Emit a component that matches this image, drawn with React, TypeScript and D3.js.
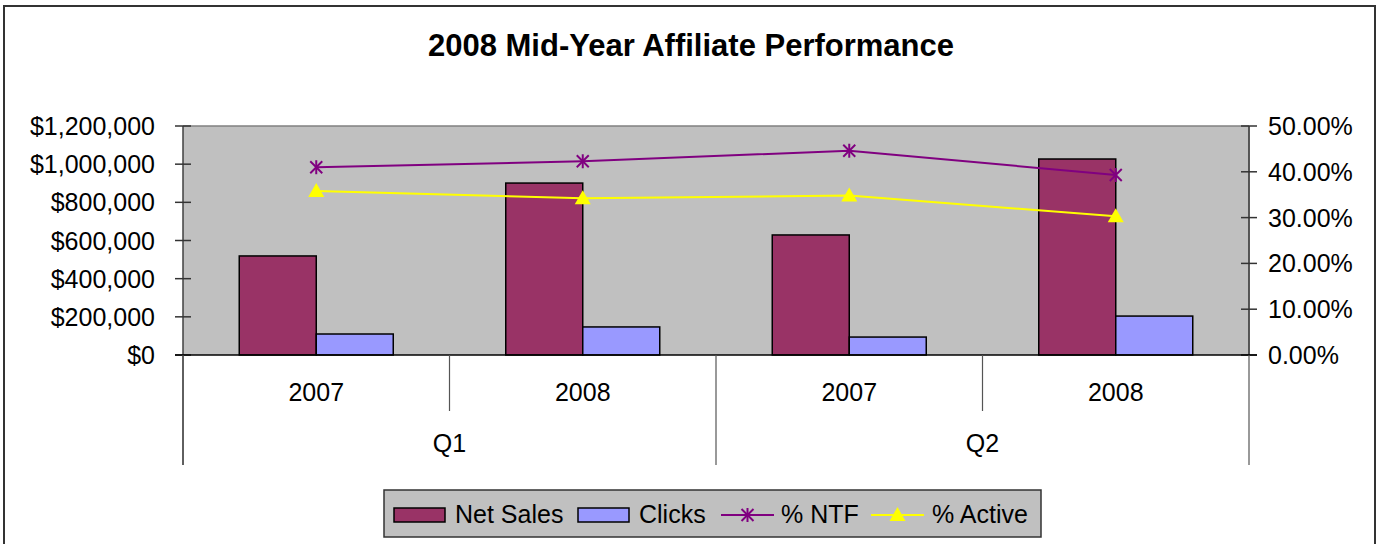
import React from "react";
import * as d3 from "d3";

const years = ["2007", "2008", "2007", "2008"];
const quarters = ["Q1", "Q2"];
const netSales = [519000, 901000, 629000, 1027000];
const clicks = [110000, 147000, 94000, 204000];
const pctNTF = [0.41, 0.423, 0.446, 0.393];
const pctActive = [0.358, 0.342, 0.348, 0.303];
const leftTicks = [0, 200000, 400000, 600000, 800000, 1000000, 1200000];
const rightTicks = [0, 0.1, 0.2, 0.3, 0.4, 0.5];

const W = 1380, H = 544;
const X0 = 183, X1 = 1249, Y0 = 126, Y1 = 355;
const FONT = "'Liberation Sans', Arial, sans-serif";

export default function App() {
  const x = d3.scaleBand<number>().domain(d3.range(years.length)).range([X0, X1]).padding(0);
  const yL = d3.scaleLinear().domain([0, 1200000]).range([Y1, Y0]);
  const yR = d3.scaleLinear().domain([0, 0.5]).range([Y1, Y0]);
  const bw = 77;
  const fmtL = (v: number) => "$" + d3.format(",")(v);
  const fmtR = d3.format(".2%");
  const cx = (i: number) => (x(i) as number) + x.bandwidth() / 2;
  const line = d3.line<number>().x((_, i) => cx(i));
  const qx = d3.scaleBand<number>().domain(d3.range(quarters.length)).range([X0, X1]);

  const star = (px: number, py: number, k: string) => (
    <g key={k} stroke="#800080" strokeWidth={2}>
      <line x1={px - 6} y1={py - 6} x2={px + 6} y2={py + 6} />
      <line x1={px - 6} y1={py + 6} x2={px + 6} y2={py - 6} />
      <line x1={px} y1={py - 7} x2={px} y2={py + 7} />
    </g>
  );
  const tri = (px: number, py: number, k: string) => (
    <path key={k} d={`M${px},${py - 8}L${px + 8},${py + 6}L${px - 8},${py + 6}Z`} fill="#ffff00" />
  );

  return (
    <svg width={W} height={H} style={{ position: "absolute", left: 0, top: 0, background: "#fff" }} fontFamily={FONT}>
      <rect x={4} y={6} width={1371} height={560} fill="#fff" stroke="#333" strokeWidth={2} />
      <text x={691} y={56} textAnchor="middle" fontSize={31} fontWeight="bold">2008 Mid-Year Affiliate Performance</text>

      <rect x={X0} y={Y0} width={X1 - X0} height={Y1 - Y0} fill="#c0c0c0" />
      <line x1={X0} y1={Y0} x2={X1} y2={Y0} stroke="#808080" strokeWidth={1.5} />
      <line x1={X1} y1={Y0} x2={X1} y2={Y1} stroke="#808080" strokeWidth={1.5} />

      {years.map((_, i) => (
        <g key={"b" + i} stroke="#000" strokeWidth={1.5}>
          <rect x={cx(i) - bw} y={yL(netSales[i])} width={bw} height={Y1 - yL(netSales[i])} fill="#993366" />
          <rect x={cx(i)} y={yL(clicks[i])} width={bw} height={Y1 - yL(clicks[i])} fill="#9999ff" />
        </g>
      ))}

      <path d={line.y((d) => yR(d))(pctNTF) || ""} fill="none" stroke="#800080" strokeWidth={2} />
      <path d={line.y((d) => yR(d))(pctActive) || ""} fill="none" stroke="#ffff00" strokeWidth={2} />
      {pctNTF.map((v, i) => star(cx(i), yR(v), "s" + i))}
      {pctActive.map((v, i) => tri(cx(i), yR(v), "t" + i))}

      {/* left axis */}
      <line x1={X0} y1={Y0} x2={X0} y2={465} stroke="#404040" strokeWidth={1.5} />
      {leftTicks.map((t) => (
        <g key={"l" + t}>
          <line x1={X0 - 8} x2={X0 + 8} y1={yL(t)} y2={yL(t)} stroke="#333" strokeWidth={1.5} />
          <text x={155} y={yL(t) + 9} textAnchor="end" fontSize={25}>{fmtL(t)}</text>
        </g>
      ))}
      {/* right axis */}
      <line x1={X1} y1={Y0} x2={X1} y2={Y1} stroke="#404040" strokeWidth={1.5} />
      {rightTicks.map((t) => (
        <g key={"r" + t}>
          <line x1={X1 - 8} x2={X1 + 8} y1={yR(t)} y2={yR(t)} stroke="#333" strokeWidth={1.5} />
          <text x={1268} y={yR(t) + 9} textAnchor="start" fontSize={25}>{fmtR(t)}</text>
        </g>
      ))}
      <line x1={X0 - 8} x2={X1 + 8} y1={Y1} y2={Y1} stroke="#000" strokeWidth={1.5} />

      {/* category axis */}
      {years.map((yv, i) => (
        <text key={"y" + i} x={cx(i)} y={401} textAnchor="middle" fontSize={25}>{yv}</text>
      ))}
      {[1, 3].map((i) => (
        <line key={"sep" + i} x1={x(i) as number} x2={x(i) as number} y1={Y1} y2={411} stroke="#555" strokeWidth={1.2} />
      ))}
      {[0, 2, 4].map((i) => {
        const px = i < 4 ? (x(i) as number) : X1;
        return <line key={"qs" + i} x1={px} x2={px} y1={Y1} y2={465} stroke="#555" strokeWidth={1.2} />;
      })}
      {quarters.map((q, i) => (
        <text key={"q" + i} x={(qx(i) as number) + qx.bandwidth() / 2} y={452} textAnchor="middle" fontSize={25}>{q}</text>
      ))}

      {/* legend */}
      <rect x={384} y={490} width={657} height={47} fill="#c0c0c0" stroke="#333" strokeWidth={1.5} />
      <rect x={394} y={508} width={51} height={14} fill="#993366" stroke="#000" strokeWidth={1.5} />
      <text x={455} y={523} fontSize={25}>Net Sales</text>
      <rect x={578} y={508} width={51} height={14} fill="#9999ff" stroke="#000" strokeWidth={1.5} />
      <text x={639} y={523} fontSize={25}>Clicks</text>
      <line x1={721} x2={774} y1={515} y2={515} stroke="#800080" strokeWidth={2} />
      {star(747.5, 515, "ls")}
      <text x={781} y={523} fontSize={25}>% NTF</text>
      <line x1={871} x2={924} y1={515} y2={515} stroke="#ffff00" strokeWidth={2} />
      {tri(897.5, 515, "lt")}
      <text x={932} y={523} fontSize={25}>% Active</text>
    </svg>
  );
}
